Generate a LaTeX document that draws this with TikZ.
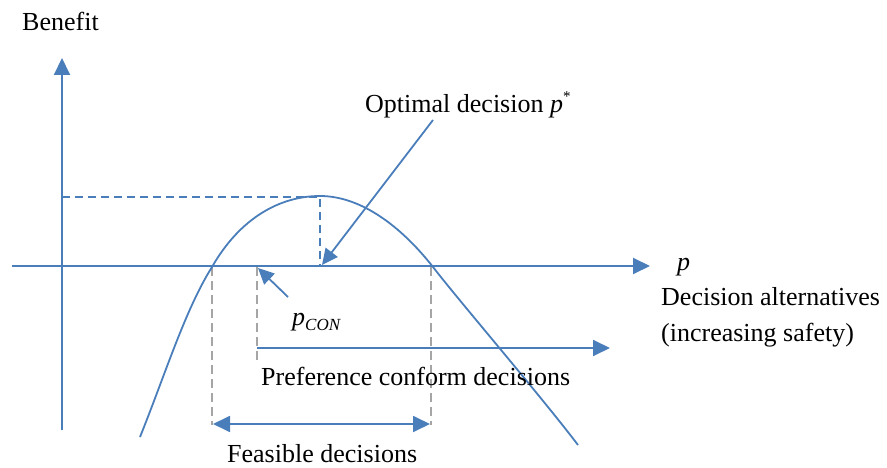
\documentclass[tikz,border=0pt]{standalone}
\usepackage{fontspec}
\setmainfont{Liberation Serif}
\usetikzlibrary{arrows.meta}
\definecolor{lineblue}{RGB}{74,126,187}
\definecolor{guidegray}{RGB}{165,165,165}
\tikzset{
  axisline/.style={draw=lineblue, line width=2pt},
  bigtip/.style={-{Triangle[length=17pt,width=16pt]}},
  thinline/.style={draw=lineblue, line width=1.8pt},
  blueguide/.style={draw=lineblue, line width=1.8pt, dash pattern=on 8pt off 5pt},
  grayguide/.style={draw=guidegray, line width=1.6pt, dash pattern=on 9pt off 5pt},
  lbl/.style={inner sep=0pt, anchor=base west, font=\fontsize{26}{30}\selectfont},
}
\begin{document}
\begin{tikzpicture}[x=1pt,y=-1pt]
\useasboundingbox (0,0) rectangle (887,468);
% coordinates
\coordinate (ybot) at (62,430);
\coordinate (ytop) at (62,58);
\coordinate (xleft) at (12,266);
\coordinate (xright) at (650,266);
\coordinate (peak) at (320,197);
\coordinate (peakaxis) at (320,266);
\coordinate (ypeak) at (62,197);
\coordinate (optstart) at (433,120);
\coordinate (opttip) at (322,265);
\coordinate (constart) at (288,297);
\coordinate (contip) at (258,268);
\coordinate (gA) at (212,267);
\coordinate (gAb) at (212,425);
\coordinate (gB) at (257,267);
\coordinate (gBb) at (257,363);
\coordinate (gC) at (431,267);
\coordinate (gCb) at (431,425);
\coordinate (prefL) at (257,348);
\coordinate (prefR) at (610,348);
\coordinate (feasL) at (213,424);
\coordinate (feasR) at (430,424);
\coordinate (cstart) at (140,437);
\coordinate (cleft) at (212,267);
\coordinate (cpeak) at (320,196);
\coordinate (cright) at (433,267);
\coordinate (cend) at (578,445);
% axes
\draw[axisline, bigtip] (ybot) -- (ytop);
\draw[axisline, bigtip] (xleft) -- (xright);
% dashed guides
\draw[blueguide] (ypeak) -- (peak) -- (peakaxis);
\draw[grayguide] (gA) -- (gAb);
\draw[grayguide] (gB) -- (gBb);
\draw[grayguide] (gC) -- (gCb);
% curve
\draw[thinline] (cstart) .. controls (165,375) and (185,310) .. (cleft)
  .. controls (240,218) and (280,196) .. (cpeak)
  .. controls (360,196) and (400,225) .. (cright)
  .. controls (460,302) and (540,395) .. (cend);
% arrows
\draw[thinline, -{Triangle[length=16pt,width=15pt]}] (optstart) -- (opttip);
\draw[thinline, -{Triangle[length=16pt,width=15pt]}] (constart) -- (contip);
\draw[thinline, bigtip] (prefL) -- (prefR);
\draw[thinline, {Triangle[length=17pt,width=16pt]}-{Triangle[length=17pt,width=16pt]}] (feasL) -- (feasR);
% labels
\node[lbl] (benefit) at (22,31) {Benefit};
\node[lbl] (optimal) at (365,113) {Optimal decision \textit{p}\raisebox{0.45em}{\fontsize{15}{15}\selectfont *}};
\node[lbl] (pcon) at (292,325) {\textit{p}\raisebox{-0.22em}{\fontsize{17}{17}\selectfont\textit{CON}}};
\node[lbl] (pref) at (261,385) {Preference conform decisions};
\node[lbl] (feas) at (227,462) {Feasible decisions};
\node[lbl] (plbl) at (677,270) {\textit{p}};
\node[lbl] (dalt) at (661,305) {Decision alternatives};
\node[lbl] (incs) at (661,341) {(increasing safety)};
\end{tikzpicture}
\end{document}
